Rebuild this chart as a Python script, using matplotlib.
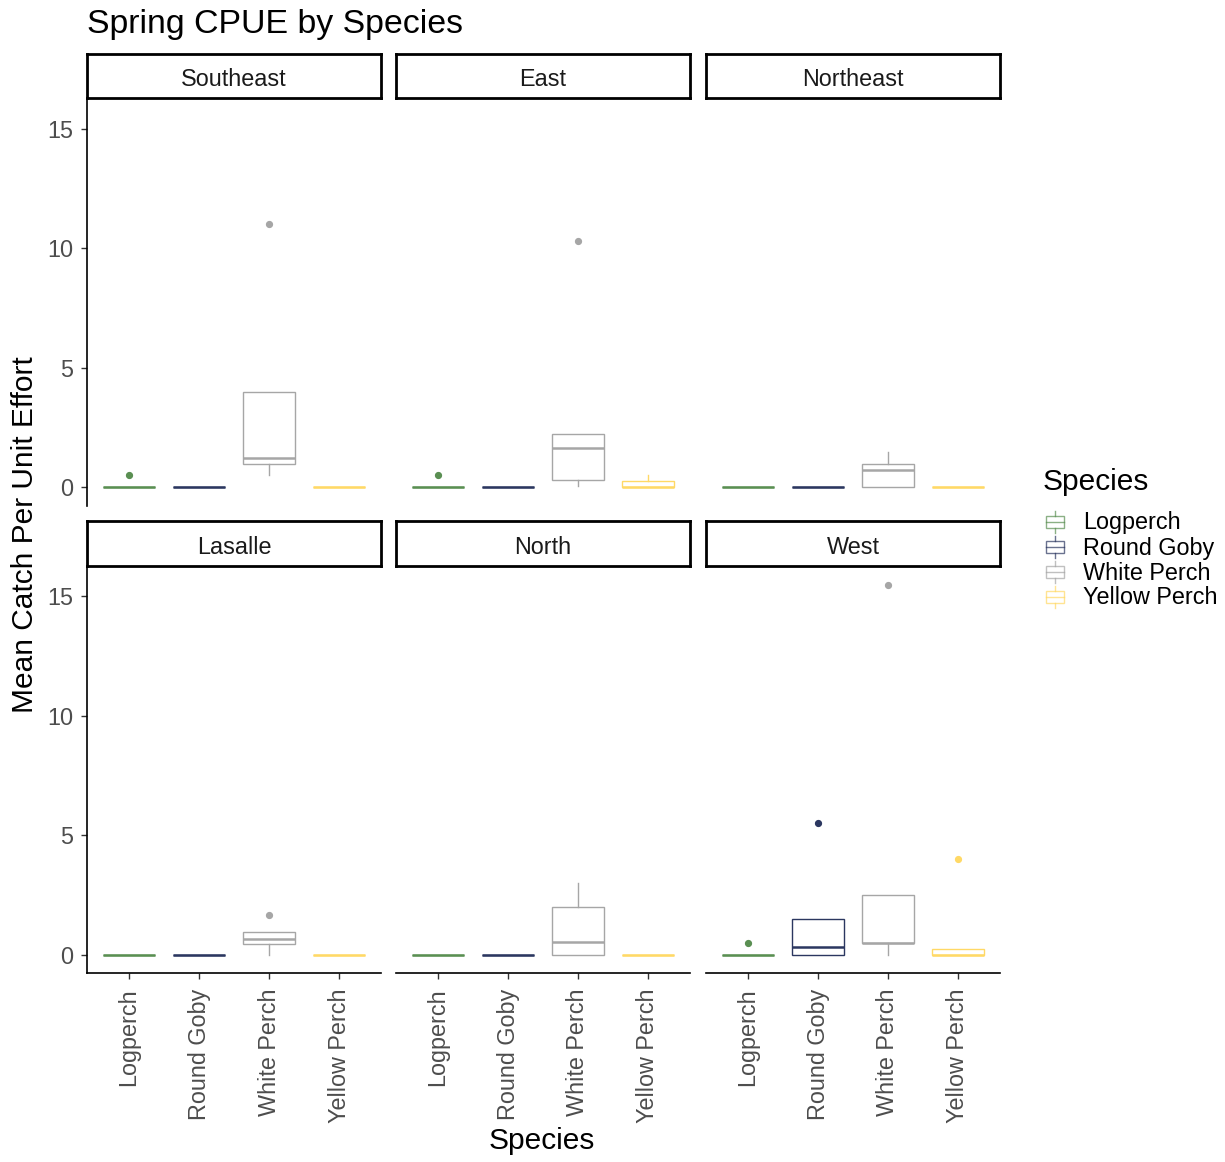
import matplotlib

matplotlib.use("Agg")
import matplotlib.pyplot as plt  # noqa: E402
from matplotlib.patches import Rectangle  # noqa: E402

plt.rcParams["font.family"] = ["Liberation Sans", "DejaVu Sans"]

# Boxplot summaries of spring CPUE: rows follow regions, columns follow species
regions = ["Southeast", "East", "Northeast", "Lasalle", "North", "West"]
species = ["Logperch", "Round Goby", "White Perch", "Yellow Perch"]
colors = ["#5A8F52", "#2B3760", "#A6A6A6", "#FFD966"]

whislo = [
    [0, 0, 0.50, 0],
    [0, 0, 0.05, 0],
    [0, 0, 0.00, 0],
    [0, 0, 0.00, 0],
    [0, 0, 0.00, 0],
    [0, 0, 0.00, 0],
]
q1 = [
    [0, 0, 1.00, 0],
    [0, 0, 0.33, 0],
    [0, 0, 0.00, 0],
    [0, 0, 0.45, 0],
    [0, 0, 0.00, 0],
    [0, 0, 0.50, 0],
]
med = [
    [0, 0, 1.25, 0],
    [0, 0, 1.65, 0],
    [0, 0, 0.75, 0],
    [0, 0, 0.65, 0],
    [0, 0, 0.53, 0],
    [0, 0.30, 0.50, 0],
]
q3 = [
    [0, 0, 4.00, 0],
    [0, 0, 2.25, 0.25],
    [0, 0, 1.00, 0],
    [0, 0, 0.95, 0],
    [0, 0, 2.00, 0],
    [0, 1.50, 2.50, 0.25],
]
whishi = [
    [0, 0, 4.00, 0],
    [0, 0, 2.25, 0.50],
    [0, 0, 1.50, 0],
    [0, 0, 0.95, 0],
    [0, 0, 3.00, 0],
    [0, 1.50, 2.50, 0.25],
]
outliers = [
    [[0.5], [], [11.0], []],
    [[0.5], [], [10.3], []],
    [[], [], [], []],
    [[], [], [1.67], []],
    [[], [], [], []],
    [[0.5], [5.5], [15.5], [4.0]],
]

W, H = 1225, 1162
fig = plt.figure(figsize=(W / 100, H / 100), dpi=100)

col_x = [87, 396, 706]
panel_w = 294
rows = [(98, 506, 54), (566, 973, 521)]  # panel top, panel bottom, strip top

tick_color = "#333333"
label_color = "#4D4D4D"
small = 16.8
big = 21.5


def fig_rect(x0, y0, x1, y1):
    return [x0 / W, 1 - y1 / H, (x1 - x0) / W, (y1 - y0) / H]


for idx, region in enumerate(regions):
    r, c = divmod(idx, 3)
    top, bot, strip_top = rows[r]
    x0 = col_x[c]
    ax = fig.add_axes(fig_rect(x0, top, x0 + panel_w, bot))

    for j, name in enumerate(species):
        st = dict(
            label=name,
            whislo=whislo[idx][j], q1=q1[idx][j], med=med[idx][j],
            q3=q3[idx][j], whishi=whishi[idx][j], fliers=outliers[idx][j],
        )
        col = colors[j]
        ax.bxp([st], positions=[j + 1], widths=0.75, showcaps=False,
               patch_artist=True,
               boxprops=dict(facecolor="white", edgecolor=col, linewidth=1.0),
               whiskerprops=dict(color=col, linewidth=1.0),
               medianprops=dict(color=col, linewidth=1.8),
               flierprops=dict(marker="o", markerfacecolor=col,
                               markeredgecolor=col, markersize=4.2))

    ax.set_xlim(0.4, 4.6)
    ax.set_ylim(-0.775, 16.275)
    ax.set_yticks([0, 5, 10, 15])
    for side in ["top", "right"]:
        ax.spines[side].set_visible(False)
    ax.spines["left"].set_linewidth(1.2)
    ax.spines["bottom"].set_linewidth(1.2)
    ax.tick_params(colors=tick_color, labelcolor=label_color, length=4,
                   width=1.0, labelsize=small)
    ax.tick_params(axis="y", pad=6)
    ax.tick_params(axis="x", pad=7)
    ax.set_xticks([1, 2, 3, 4])
    ax.set_xticklabels(species, rotation=90, va="top", ha="center")

    if c != 0:
        ax.spines["left"].set_visible(False)
        ax.tick_params(axis="y", left=False, labelleft=False)
    if r == 0:
        ax.spines["bottom"].set_visible(False)
        ax.tick_params(axis="x", bottom=False, labelbottom=False)

    # facet strip
    sax = fig.add_axes(fig_rect(x0, strip_top, x0 + panel_w, top))
    sax.set_xticks([])
    sax.set_yticks([])
    for sp in sax.spines.values():
        sp.set_linewidth(2.0)
        sp.set_color("black")
    sax.text(0.5, 0.42, region, ha="center", va="center", fontsize=small,
             color="#1A1A1A", transform=sax.transAxes)

fig.text(87 / W, 1 - 24 / H, "Spring CPUE by Species", fontsize=24.4,
         ha="left", va="center", color="black")
fig.text(25 / W, 1 - 535 / H, "Mean Catch Per Unit Effort", fontsize=big,
         rotation=90, ha="center", va="center", color="black")
fig.text(542 / W, 1 - 1141 / H, "Species", fontsize=big,
         ha="center", va="center", color="black")

# legend drawn in pixel coordinates
lax = fig.add_axes([0, 0, 1, 1], facecolor="none")
lax.set_xlim(0, W)
lax.set_ylim(H, 0)
lax.axis("off")
lax.text(1043, 482, "Species", fontsize=big, ha="left", va="center")
for k, name in enumerate(species):
    yc = 522 + 25 * k
    col = colors[k]
    lax.plot([1055, 1055], [yc - 11, yc - 6], color=col, lw=1.0, alpha=0.7)
    lax.plot([1055, 1055], [yc + 6, yc + 11], color=col, lw=1.0, alpha=0.7)
    lax.add_patch(Rectangle((1046, yc - 6), 18, 12, facecolor="white",
                            edgecolor=col, lw=1.0, alpha=0.7))
    lax.plot([1046, 1064], [yc, yc], color=col, lw=1.0, alpha=0.7)
    lax.text(1083, yc + 1, name, fontsize=small, ha="left", va="center",
             color="black")

fig.savefig("out.png", dpi=100)
